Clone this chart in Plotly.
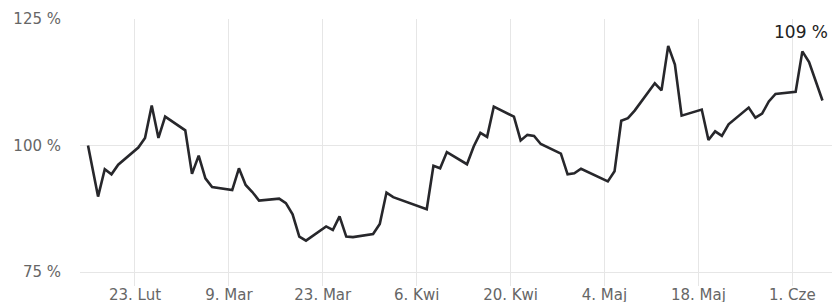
import plotly.graph_objects as go

# Trading dates (WSE 2015) and index values (% of start)
dates = [
    "2015-02-16 00:00", "2015-02-17 12:00", "2015-02-18 12:00", "2015-02-19 12:00", "2015-02-20 12:00",
    "2015-02-23 12:00", "2015-02-24 12:00", "2015-02-25 12:00", "2015-02-26 12:00", "2015-02-27 12:00",
    "2015-03-02 12:00", "2015-03-03 12:00", "2015-03-04 12:00", "2015-03-05 12:00", "2015-03-06 12:00",
    "2015-03-09 12:00", "2015-03-10 12:00", "2015-03-11 12:00", "2015-03-12 12:00", "2015-03-13 12:00",
    "2015-03-16 12:00", "2015-03-17 12:00", "2015-03-18 12:00", "2015-03-19 12:00", "2015-03-20 12:00",
    "2015-03-23 12:00", "2015-03-24 12:00", "2015-03-25 12:00", "2015-03-26 12:00", "2015-03-27 12:00",
    "2015-03-30 12:00", "2015-03-31 12:00", "2015-04-01 12:00", "2015-04-02 12:00",
    "2015-04-07 12:00", "2015-04-08 12:00", "2015-04-09 12:00", "2015-04-10 12:00",
    "2015-04-13 12:00", "2015-04-14 12:00", "2015-04-15 12:00", "2015-04-16 12:00", "2015-04-17 12:00",
    "2015-04-20 12:00", "2015-04-21 12:00", "2015-04-22 12:00", "2015-04-23 12:00", "2015-04-24 12:00",
    "2015-04-27 12:00", "2015-04-28 12:00", "2015-04-29 12:00", "2015-04-30 12:00",
    "2015-05-04 12:00", "2015-05-05 12:00", "2015-05-06 12:00", "2015-05-07 12:00", "2015-05-08 12:00",
    "2015-05-11 12:00", "2015-05-12 12:00", "2015-05-13 12:00", "2015-05-14 12:00", "2015-05-15 12:00",
    "2015-05-18 12:00", "2015-05-19 12:00", "2015-05-20 12:00", "2015-05-21 12:00", "2015-05-22 12:00",
    "2015-05-25 12:00", "2015-05-26 12:00", "2015-05-27 12:00", "2015-05-28 12:00", "2015-05-29 12:00",
    "2015-06-01 12:00", "2015-06-02 12:00", "2015-06-03 12:00", "2015-06-05 12:00",
]
values = [
    100.0, 89.9, 95.3, 94.3, 96.2,
    99.6, 101.5, 107.9, 101.5, 105.7,
    103.0, 94.4, 98.0, 93.5, 91.8,
    91.2, 95.5, 92.2, 90.8, 89.1,
    89.5, 88.6, 86.4, 82.0, 81.2,
    84.0, 83.3, 86.0, 82.0, 81.9,
    82.5, 84.5, 90.7, 89.8,
    87.4, 96.0, 95.5, 98.7,
    96.3, 99.8, 102.5, 101.7, 107.7,
    105.7, 101.0, 102.1, 101.9, 100.3,
    98.4, 94.3, 94.5, 95.4,
    92.9, 94.9, 104.9, 105.4, 106.9,
    112.3, 110.9, 119.7, 116.0, 105.9,
    107.1, 101.1, 102.8, 101.9, 104.2,
    107.5, 105.5, 106.3, 108.7, 110.2,
    110.6, 118.6, 116.5, 108.9,
]
tick_dates = ["2015-02-23", "2015-03-09", "2015-03-23", "2015-04-06",
              "2015-04-20", "2015-05-04", "2015-05-18", "2015-06-01"]
tick_labels = ["23. Lut", "9. Mar", "23. Mar", "6. Kwi", "20. Kwi", "4. Maj", "18. Maj", "1. Cze"]
y_ticks = [75, 100, 125]
y_labels = [f"{v} %" for v in y_ticks]

FONT = "DejaVu Sans"
GRID = "#e6e6e6"

fig = go.Figure()
fig.add_trace(go.Scatter(
    x=dates, y=values, mode="lines",
    line=dict(color="#27272b", width=2.6),
    hoverinfo="skip", showlegend=False,
))

fig.add_annotation(
    text=f"{values[-1]:.0f} %",
    xref="paper", yref="paper", x=1, y=0.9486,
    xanchor="right", yanchor="middle", xshift=-2,
    showarrow=False,
    font=dict(family=FONT, size=17, color="#222222"),
)

fig.update_layout(
    width=832, height=302,
    margin=dict(l=80, r=0, t=19, b=30),
    paper_bgcolor="white", plot_bgcolor="white",
    font=dict(family=FONT, size=15, color="#666666"),
    xaxis=dict(
        range=["2015-02-14 19:20", "2015-06-06 22:05"],
        tickmode="array", tickvals=tick_dates, ticktext=tick_labels,
        showgrid=True, gridcolor=GRID, gridwidth=1,
        ticks="outside", ticklen=13, tickcolor=GRID, tickwidth=1,
        ticklabelstandoff=-4,
        showline=True, linecolor=GRID, linewidth=1,
        zeroline=False, automargin=False,
        tickfont=dict(family=FONT, size=15, color="#666666"),
    ),
    yaxis=dict(
        range=[75, 125],
        tickmode="array", tickvals=y_ticks, ticktext=y_labels,
        showgrid=True, gridcolor=GRID, gridwidth=1,
        zeroline=False, showline=False, automargin=False,
        ticks="", ticklabelstandoff=18,
        tickfont=dict(family=FONT, size=15, color="#666666"),
    ),
)

fig.write_html(
    "out.html",
    config={"displayModeBar": False, "staticPlot": True},
    post_script="document.body.style.margin='0';document.body.style.padding='0';",
)
